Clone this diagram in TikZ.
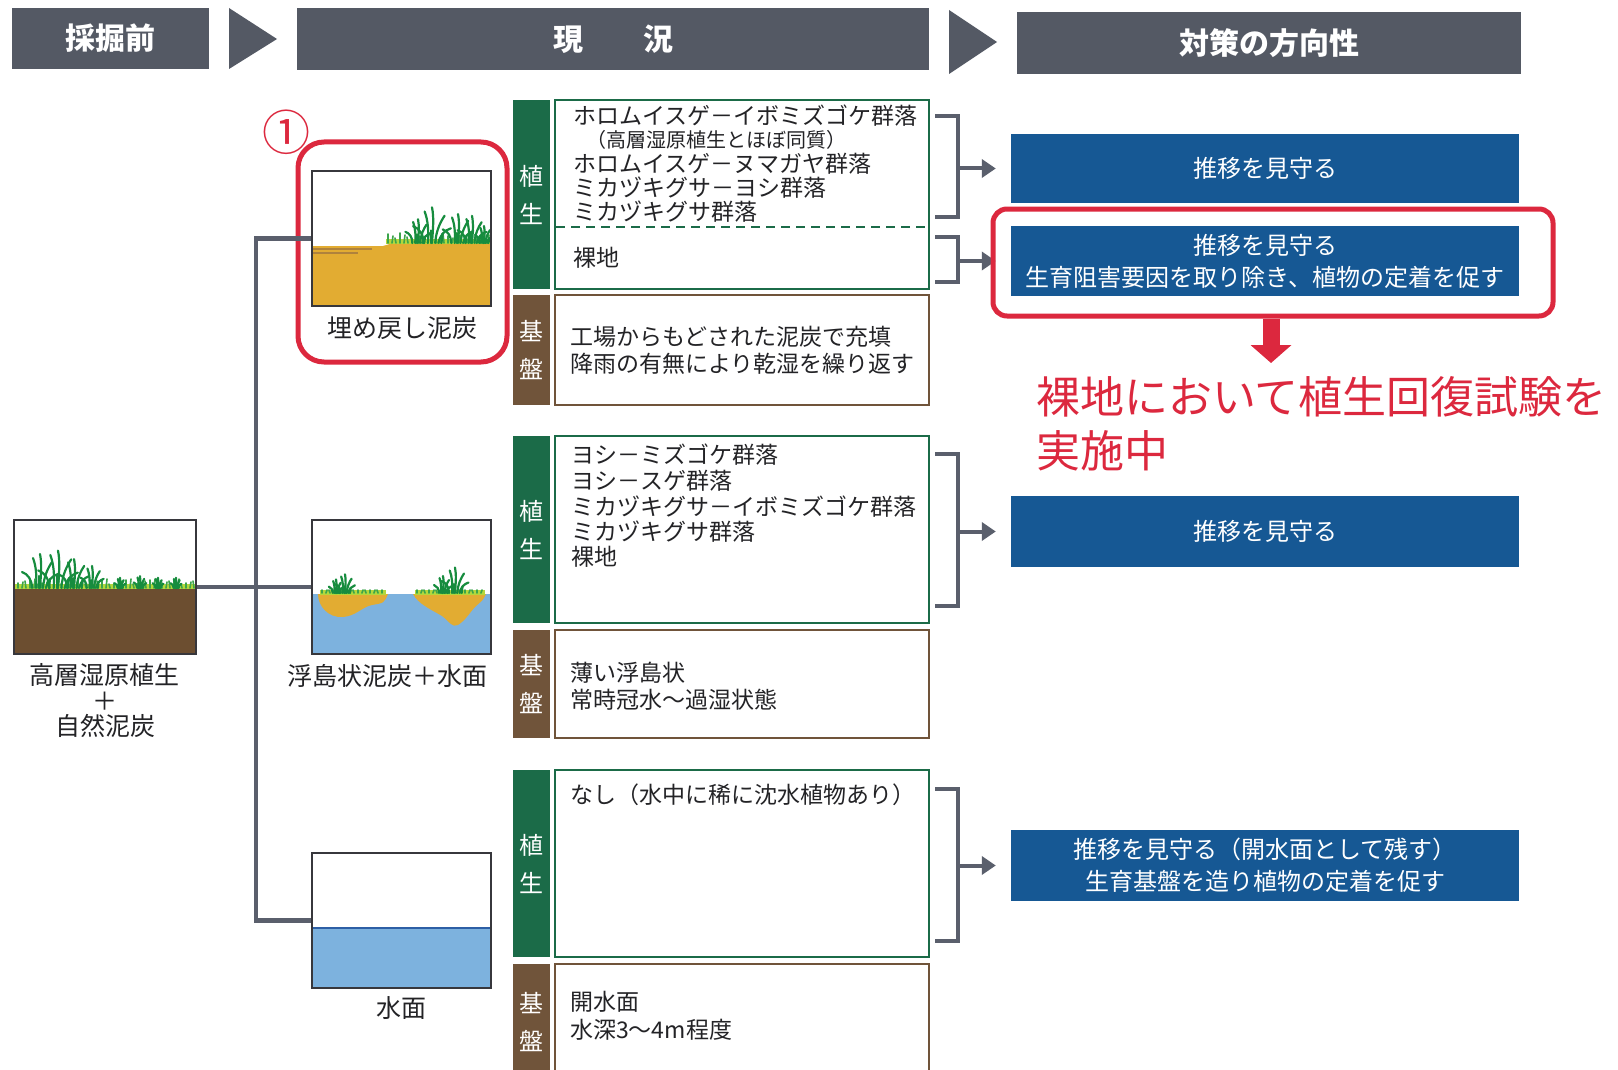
\documentclass[tikz,border=0pt]{standalone}
\usepackage{fontspec}
\setmainfont{Noto Sans CJK JP}
\usetikzlibrary{arrows.meta}

\definecolor{hdrc}{RGB}{84,89,100}
\definecolor{connc}{RGB}{90,95,108}
\definecolor{vegc}{RGB}{27,107,72}
\definecolor{basec}{RGB}{112,84,58}
\definecolor{actc}{RGB}{22,88,148}
\definecolor{redc}{RGB}{220,40,62}
\definecolor{txtc}{RGB}{35,35,38}
\definecolor{framec}{RGB}{55,55,60}
\definecolor{soilc}{RGB}{108,78,48}
\definecolor{peatc}{RGB}{226,172,50}
\definecolor{peatdark}{RGB}{175,130,60}
\definecolor{waterc}{RGB}{125,178,222}
\definecolor{waterline}{RGB}{45,95,165}
\definecolor{grassc}{RGB}{22,140,62}
\definecolor{grasslt}{RGB}{60,165,75}
\definecolor{ygreen}{RGB}{180,215,60}

\begin{document}
\begin{tikzpicture}[x=1pt,y=-1pt,
  hdr/.style={fill=hdrc, text=white, inner sep=0,
    font=\fontsize{30}{32}\selectfont\bfseries},
  imgframe/.style={draw=framec, line width=1.5pt, inner sep=0},
  lab/.style={inner sep=0, text=txtc, align=center,
    font=\fontsize{25}{25.5}\selectfont},
  vbar/.style={inner sep=0, text=white, align=center, minimum width=37pt,
    font=\fontsize{24}{38}\selectfont},
  vegbar/.style={vbar, fill=vegc},
  basebar/.style={vbar, fill=basec},
  vegbox/.style={draw=vegc, line width=2.5pt, minimum width=374pt, inner sep=0},
  basebox/.style={draw=basec, line width=2.5pt, minimum width=374pt, inner sep=0},
  txt/.style={anchor=west, inner sep=0, text=txtc,
    font=\fontsize{23}{25}\selectfont},
  smalltxt/.style={anchor=west, inner sep=0, text=txtc,
    font=\fontsize{20}{22}\selectfont},
  act/.style={fill=actc, text=white, align=center, minimum width=508pt,
    inner sep=0, font=\fontsize{24}{32}\selectfont},
  conn/.style={draw=connc, line width=4.5pt},
  brk/.style={draw=connc, line width=4pt},
  tip/.style={-{Triangle[length=14pt,width=18pt]}},
  hl/.style={draw=redc, line width=5pt},
  blade/.style={draw=grassc, line width=2.2pt, line cap=round},
  sprig/.style={draw=grasslt, line width=1.6pt, line cap=round},
  tuft/.pic={
    \draw[blade] (-8,0) .. controls (-8,-8) and (-12,-14) .. (-18,-16);
    \draw[blade] (-4,0) .. controls (-3,-12) and (-4,-22) .. (-7,-30);
    \draw[blade] (0,0) .. controls (1,-14) and (2,-24) .. (0,-34);
    \draw[blade] (3,0) .. controls (4,-12) and (8,-20) .. (12,-26);
    \draw[blade] (6,0) .. controls (8,-8) and (12,-12) .. (18,-14);
    \draw[blade] (-1,0) -- (-1,-12);
    \draw[blade] (9,0) -- (10,-9);
  },
]
\useasboundingbox (0,0) rectangle (1618,1070);
\fill[white] (0,0) rectangle (1618,1070);

% ---------- header row ----------
\node[hdr, minimum width=197pt, minimum height=61pt] (h1) at (110.5,38.5) {採掘前};
\fill[hdrc] (229,8) -- (277,39) -- (229,69) -- cycle;
\node[hdr, minimum width=632pt, minimum height=62pt] (h2) at (613,39) {現\hspace{2em}況};
\fill[hdrc] (949,10) -- (997,42) -- (949,74) -- cycle;
\node[hdr, minimum width=504pt, minimum height=62pt] (h3) at (1269,43) {対策の方向性};

% ---------- before mining: bog vegetation on natural peat ----------
\begin{scope}
  \clip (14,520) rectangle (196,654);
  \fill[soilc] (14,588) rectangle (196,654);
  \fill[ygreen] (14,584) rectangle (196,589);
  \foreach \x [count=\i] in {18,22,...,194}
    \draw[sprig] (\x,588) -- ++({mod(\i,3)-1},{-4-mod(\i*7,6)});
  \pic at (40,588) {tuft};
  \pic[scale=1.1] at (58,588) {tuft};
  \pic[scale=0.85] at (74,588) {tuft};
  \pic[scale=0.65] at (92,588) {tuft};
  \pic[scale=0.3] at (120,588) {tuft};
  \pic[scale=0.35] at (140,588) {tuft};
  \pic[scale=0.3] at (158,588) {tuft};
  \pic[scale=0.3] at (176,588) {tuft};
\end{scope}
\node[imgframe, minimum width=182pt, minimum height=134pt] (imgA) at (105,587) {};
\node[lab] (labA) at (105,701) {高層湿原植生\\＋\\自然泥炭};

% ---------- refilled peat ----------
\begin{scope}
  \clip (312,171) rectangle (491,306);
  \fill[peatc] (312,246) -- (383,246) -- (393,243) -- (491,243) -- (491,306) -- (312,306) -- cycle;
  \draw[peatdark, line width=1.5pt] (312,249) -- (372,249);
  \draw[peatdark, line width=1.5pt] (312,253) -- (358,253);
  \fill[ygreen] (386,239) rectangle (491,244);
  \foreach \x [count=\i] in {388,392,...,488}
    \draw[sprig] (\x,243) -- ++({mod(\i,3)-1},{-4-mod(\i*5,7)});
  \pic[scale=0.7] at (418,243) {tuft};
  \pic[scale=1.05] at (432,243) {tuft};
  \pic[scale=0.85] at (458,243) {tuft};
  \pic[scale=0.8] at (472,243) {tuft};
  \pic[scale=0.5] at (484,243) {tuft};
\end{scope}
\node[imgframe, minimum width=179pt, minimum height=135pt] (imgB) at (401.5,238.5) {};
\node[lab] (labB) at (402,328) {埋め戻し泥炭};
\draw[hl, rounded corners=26pt] (298,142) rectangle (507,362);
\node[text=redc, inner sep=0, font=\fontsize{48}{48}\selectfont] (num1) at (286,132) {①};

% ---------- floating peat islands + water ----------
\begin{scope}
  \clip (312,520) rectangle (491,654);
  \fill[waterc] (312,594) rectangle (491,654);
  \fill[peatc] (318,594) .. controls (318,606) and (328,618) .. (343,617)
    .. controls (356,616) and (362,607) .. (372,605) .. controls (384,603) .. (388,594) -- cycle;
  \fill[peatc] (413,594) .. controls (418,604) and (432,610) .. (442,616)
    .. controls (450,622) and (452,628) .. (458,625)
    .. controls (466,620) and (470,612) .. (476,606) .. controls (483,600) .. (486,594) -- cycle;
  \fill[ygreen] (320,590) rectangle (386,595);
  \fill[ygreen] (415,590) rectangle (485,595);
  \foreach \x [count=\i] in {322,326,...,384}
    \draw[sprig] (\x,593) -- ++({mod(\i,3)-1},{-3-mod(\i*5,5)});
  \foreach \x [count=\i] in {417,421,...,483}
    \draw[sprig] (\x,593) -- ++({mod(\i,3)-1},{-3-mod(\i*5,5)});
  \pic[scale=0.55] at (345,593) {tuft};
  \pic[scale=0.4] at (336,593) {tuft};
  \pic[scale=0.75] at (455,593) {tuft};
  \pic[scale=0.5] at (443,593) {tuft};
\end{scope}
\node[imgframe, minimum width=179pt, minimum height=134pt] (imgC) at (401.5,587) {};
\node[lab] (labC) at (387,676) {浮島状泥炭＋水面};

% ---------- open water ----------
\fill[waterc] (312,928) rectangle (491,988);
\draw[waterline, line width=2pt] (312,928) -- (491,928);
\node[imgframe, minimum width=179pt, minimum height=135pt] (imgD) at (401.5,920.5) {};
\node[lab] (labD) at (401,1008) {水面};

% ---------- trunk connecting the four states ----------
\coordinate (jt) at (256,238.5);
\coordinate (jb) at (256,920.5);
\draw[conn] (imgA.east) -- (imgC.west);
\draw[conn] (imgB.west) -- (jt) -- (jb) -- (imgD.west);

% ---------- section 1: refilled peat ----------
\node[vegbar, minimum height=189pt] (v1) at (531.5,194.5) {植\\生};
\node[vegbox, minimum height=189pt] (c1) at (742,194.5) {};
\draw[vegc, line width=2.5pt, dash pattern=on 9pt off 6pt] (556,227) -- (928,227);
\node[txt] (t1a) at (573,116) {ホロムイスゲ－イボミズゴケ群落};
\node[smalltxt] (t1b) at (586,140) {（高層湿原植生とほぼ同質）};
\node[txt] (t1c) at (573,164) {ホロムイスゲ－ヌマガヤ群落};
\node[txt] (t1d) at (573,188) {ミカヅキグサ－ヨシ群落};
\node[txt] (t1e) at (573,212) {ミカヅキグサ群落};
\node[txt] (t1f) at (573,258) {裸地};
\node[basebar, minimum height=110pt] (b1) at (531.5,350) {基\\盤};
\node[basebox, minimum height=110pt] (d1) at (742,350) {};
\node[txt] (u1a) at (570,337) {工場からもどされた泥炭で充填};
\node[txt] (u1b) at (570,364) {降雨の有無により乾湿を繰り返す};

% ---------- section 2: floating islands ----------
\node[vegbar, minimum height=187pt] (v2) at (531.5,529.5) {植\\生};
\node[vegbox, minimum height=187pt] (c2) at (742,529.5) {};
\node[txt] (t2a) at (571,455) {ヨシ－ミズゴケ群落};
\node[txt] (t2b) at (571,481) {ヨシ－スゲ群落};
\node[txt] (t2c) at (571,507) {ミカヅキグサ－イボミズゴケ群落};
\node[txt] (t2d) at (571,532) {ミカヅキグサ群落};
\node[txt] (t2e) at (571,557) {裸地};
\node[basebar, minimum height=108pt] (b2) at (531.5,684) {基\\盤};
\node[basebox, minimum height=108pt] (d2) at (742,684) {};
\node[txt] (u2a) at (570,673) {薄い浮島状};
\node[txt] (u2b) at (570,700) {常時冠水～過湿状態};

% ---------- section 3: open water ----------
\node[vegbar, minimum height=187pt] (v3) at (531.5,863.5) {植\\生};
\node[vegbox, minimum height=187pt] (c3) at (742,863.5) {};
\node[txt] (t3a) at (570,795) {なし（水中に稀に沈水植物あり）};
\node[basebar, minimum height=116pt] (b3) at (531.5,1022) {基\\盤};
\node[basebox, minimum height=116pt] (d3) at (742,1022) {};
\node[txt] (u3a) at (570,1002) {開水面};
\node[txt] (u3b) at (570,1030) {水深3～4m程度};

% ---------- measures ----------
\node[act, minimum height=69pt] (a1) at (1265,168.5) {推移を見守る};
\node[act, minimum height=70pt] (a2) at (1265,261) {推移を見守る\\生育阻害要因を取り除き、植物の定着を促す};
\node[act, minimum height=71pt] (a3) at (1265,531.5) {推移を見守る};
\node[act, minimum height=71pt] (a4) at (1265,865.5) {推移を見守る（開水面として残す）\\生育基盤を造り植物の定着を促す};

% brackets from the current state to the measures
\draw[brk] (935,116) -- (958,116) -- (958,217) -- (935,217);
\coordinate (k1) at (958,168.5);
\draw[brk, tip, shorten >=15pt] (k1) -- (k1 -| a1.west);
\draw[brk] (935,237) -- (958,237) -- (958,282) -- (935,282);
\coordinate (k2) at (958,261);
\draw[brk, tip, shorten >=15pt] (k2) -- (k2 -| a2.west);
\draw[brk] (935,454) -- (958,454) -- (958,606) -- (935,606);
\coordinate (k3) at (958,531.5);
\draw[brk, tip, shorten >=15pt] (k3) -- (k3 -| a3.west);
\draw[brk] (935,789) -- (958,789) -- (958,941) -- (935,941);
\coordinate (k4) at (958,865.5);
\draw[brk, tip, shorten >=15pt] (k4) -- (k4 -| a4.west);

% highlighted measure and the trial under way
\node[hl, rounded corners=14pt, minimum width=560pt, minimum height=107pt, inner sep=0] (hl2) at (1273,262.5) {};
\node[anchor=west, inner sep=0, text=redc, align=left,
  font=\fontsize{44}{54}\selectfont] (trial) at (1036,424) {裸地において植生回復試験を\\実施中};
\coordinate (tipend) at (1271,363);
\draw[redc, line width=17pt, -{Triangle[length=18pt,width=40pt]}] (hl2.south -| tipend) -- (tipend);
\end{tikzpicture}
\end{document}
